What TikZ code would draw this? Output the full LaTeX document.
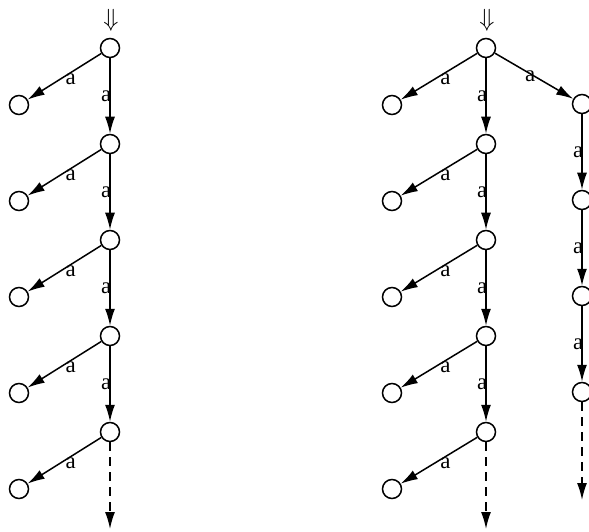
\documentclass[tikz,border=0pt]{standalone}
\usepackage{fontspec}
\setmainfont{Liberation Serif}
\usetikzlibrary{arrows.meta}

\begin{document}
\begin{tikzpicture}[
    x=1bp, y=-1bp,
    every node/.style={font=\fontsize{23}{23}\selectfont},
    state/.style={draw, circle, minimum size=19bp, inner sep=0pt, line width=1.5bp},
    edge/.style={-{Latex[length=17bp,width=10bp]}, line width=1.5bp},
    open/.style={edge, dash pattern=on 9bp off 6bp},
    lbl/.style={inner sep=0pt}
]
\useasboundingbox (0,0) rectangle (589,532);

% left run: one a-path, a side leaf at every step
\node (inL) at (111,20) {\fontsize{34}{34}\selectfont$\Downarrow$};
\node[state] (l0) at (110,48) {};
\node[state] (l1) at (110,144) {};
\node[state] (l2) at (110,240) {};
\node[state] (l3) at (110,336) {};
\node[state] (l4) at (110,432) {};
\coordinate (l5) at (110,529);
\node[state] (ll0) at (19,105) {};
\node[state] (ll1) at (19,201) {};
\node[state] (ll2) at (19,297) {};
\node[state] (ll3) at (19,393) {};
\node[state] (ll4) at (19,489) {};

\draw[edge] (l0) -- node[lbl, left, xshift=2bp] {a} (l1);
\draw[edge] (l1) -- node[lbl, left, xshift=2bp] {a} (l2);
\draw[edge] (l2) -- node[lbl, left, xshift=2bp] {a} (l3);
\draw[edge] (l3) -- node[lbl, left, xshift=2bp] {a} (l4);
\draw[open] (l4) -- (l5);
\draw[edge] (l0) -- node[lbl, pos=0.43, anchor=north, xshift=1bp] {a} (ll0);
\draw[edge] (l1) -- node[lbl, pos=0.43, anchor=north, xshift=1bp] {a} (ll1);
\draw[edge] (l2) -- node[lbl, pos=0.43, anchor=north, xshift=1bp] {a} (ll2);
\draw[edge] (l3) -- node[lbl, pos=0.43, anchor=north, xshift=1bp] {a} (ll3);
\draw[edge] (l4) -- node[lbl, pos=0.43, anchor=north, xshift=1bp] {a} (ll4);

% right run: same, plus a second a-path on the right
\node (inR) at (487,20) {\fontsize{34}{34}\selectfont$\Downarrow$};
\node[state] (r0) at (486,48) {};
\node[state] (r1) at (486,144) {};
\node[state] (r2) at (486,240) {};
\node[state] (r3) at (486,336) {};
\node[state] (r4) at (486,432) {};
\coordinate (r5) at (486,529);
\node[state] (rl0) at (392,105) {};
\node[state] (rl1) at (392,201) {};
\node[state] (rl2) at (392,297) {};
\node[state] (rl3) at (392,393) {};
\node[state] (rl4) at (392,489) {};
\node[state] (c1) at (582,104) {};
\node[state] (c2) at (582,200) {};
\node[state] (c3) at (582,296) {};
\node[state] (c4) at (582,392) {};
\coordinate (c5) at (582,500);

\draw[edge] (r0) -- node[lbl, left, xshift=2bp] {a} (r1);
\draw[edge] (r1) -- node[lbl, left, xshift=2bp] {a} (r2);
\draw[edge] (r2) -- node[lbl, left, xshift=2bp] {a} (r3);
\draw[edge] (r3) -- node[lbl, left, xshift=2bp] {a} (r4);
\draw[open] (r4) -- (r5);
\draw[edge] (r0) -- node[lbl, pos=0.43, anchor=north, xshift=1bp] {a} (rl0);
\draw[edge] (r1) -- node[lbl, pos=0.43, anchor=north, xshift=1bp] {a} (rl1);
\draw[edge] (r2) -- node[lbl, pos=0.43, anchor=north, xshift=1bp] {a} (rl2);
\draw[edge] (r3) -- node[lbl, pos=0.43, anchor=north, xshift=1bp] {a} (rl3);
\draw[edge] (r4) -- node[lbl, pos=0.43, anchor=north, xshift=1bp] {a} (rl4);
\draw[edge] (r0) -- node[lbl, pos=0.45, yshift=-3bp] {a} (c1);
\draw[edge] (c1) -- node[lbl, left, xshift=2bp] {a} (c2);
\draw[edge] (c2) -- node[lbl, left, xshift=2bp] {a} (c3);
\draw[edge] (c3) -- node[lbl, left, xshift=2bp] {a} (c4);
\draw[open] (c4) -- (c5);
\end{tikzpicture}
\end{document}
